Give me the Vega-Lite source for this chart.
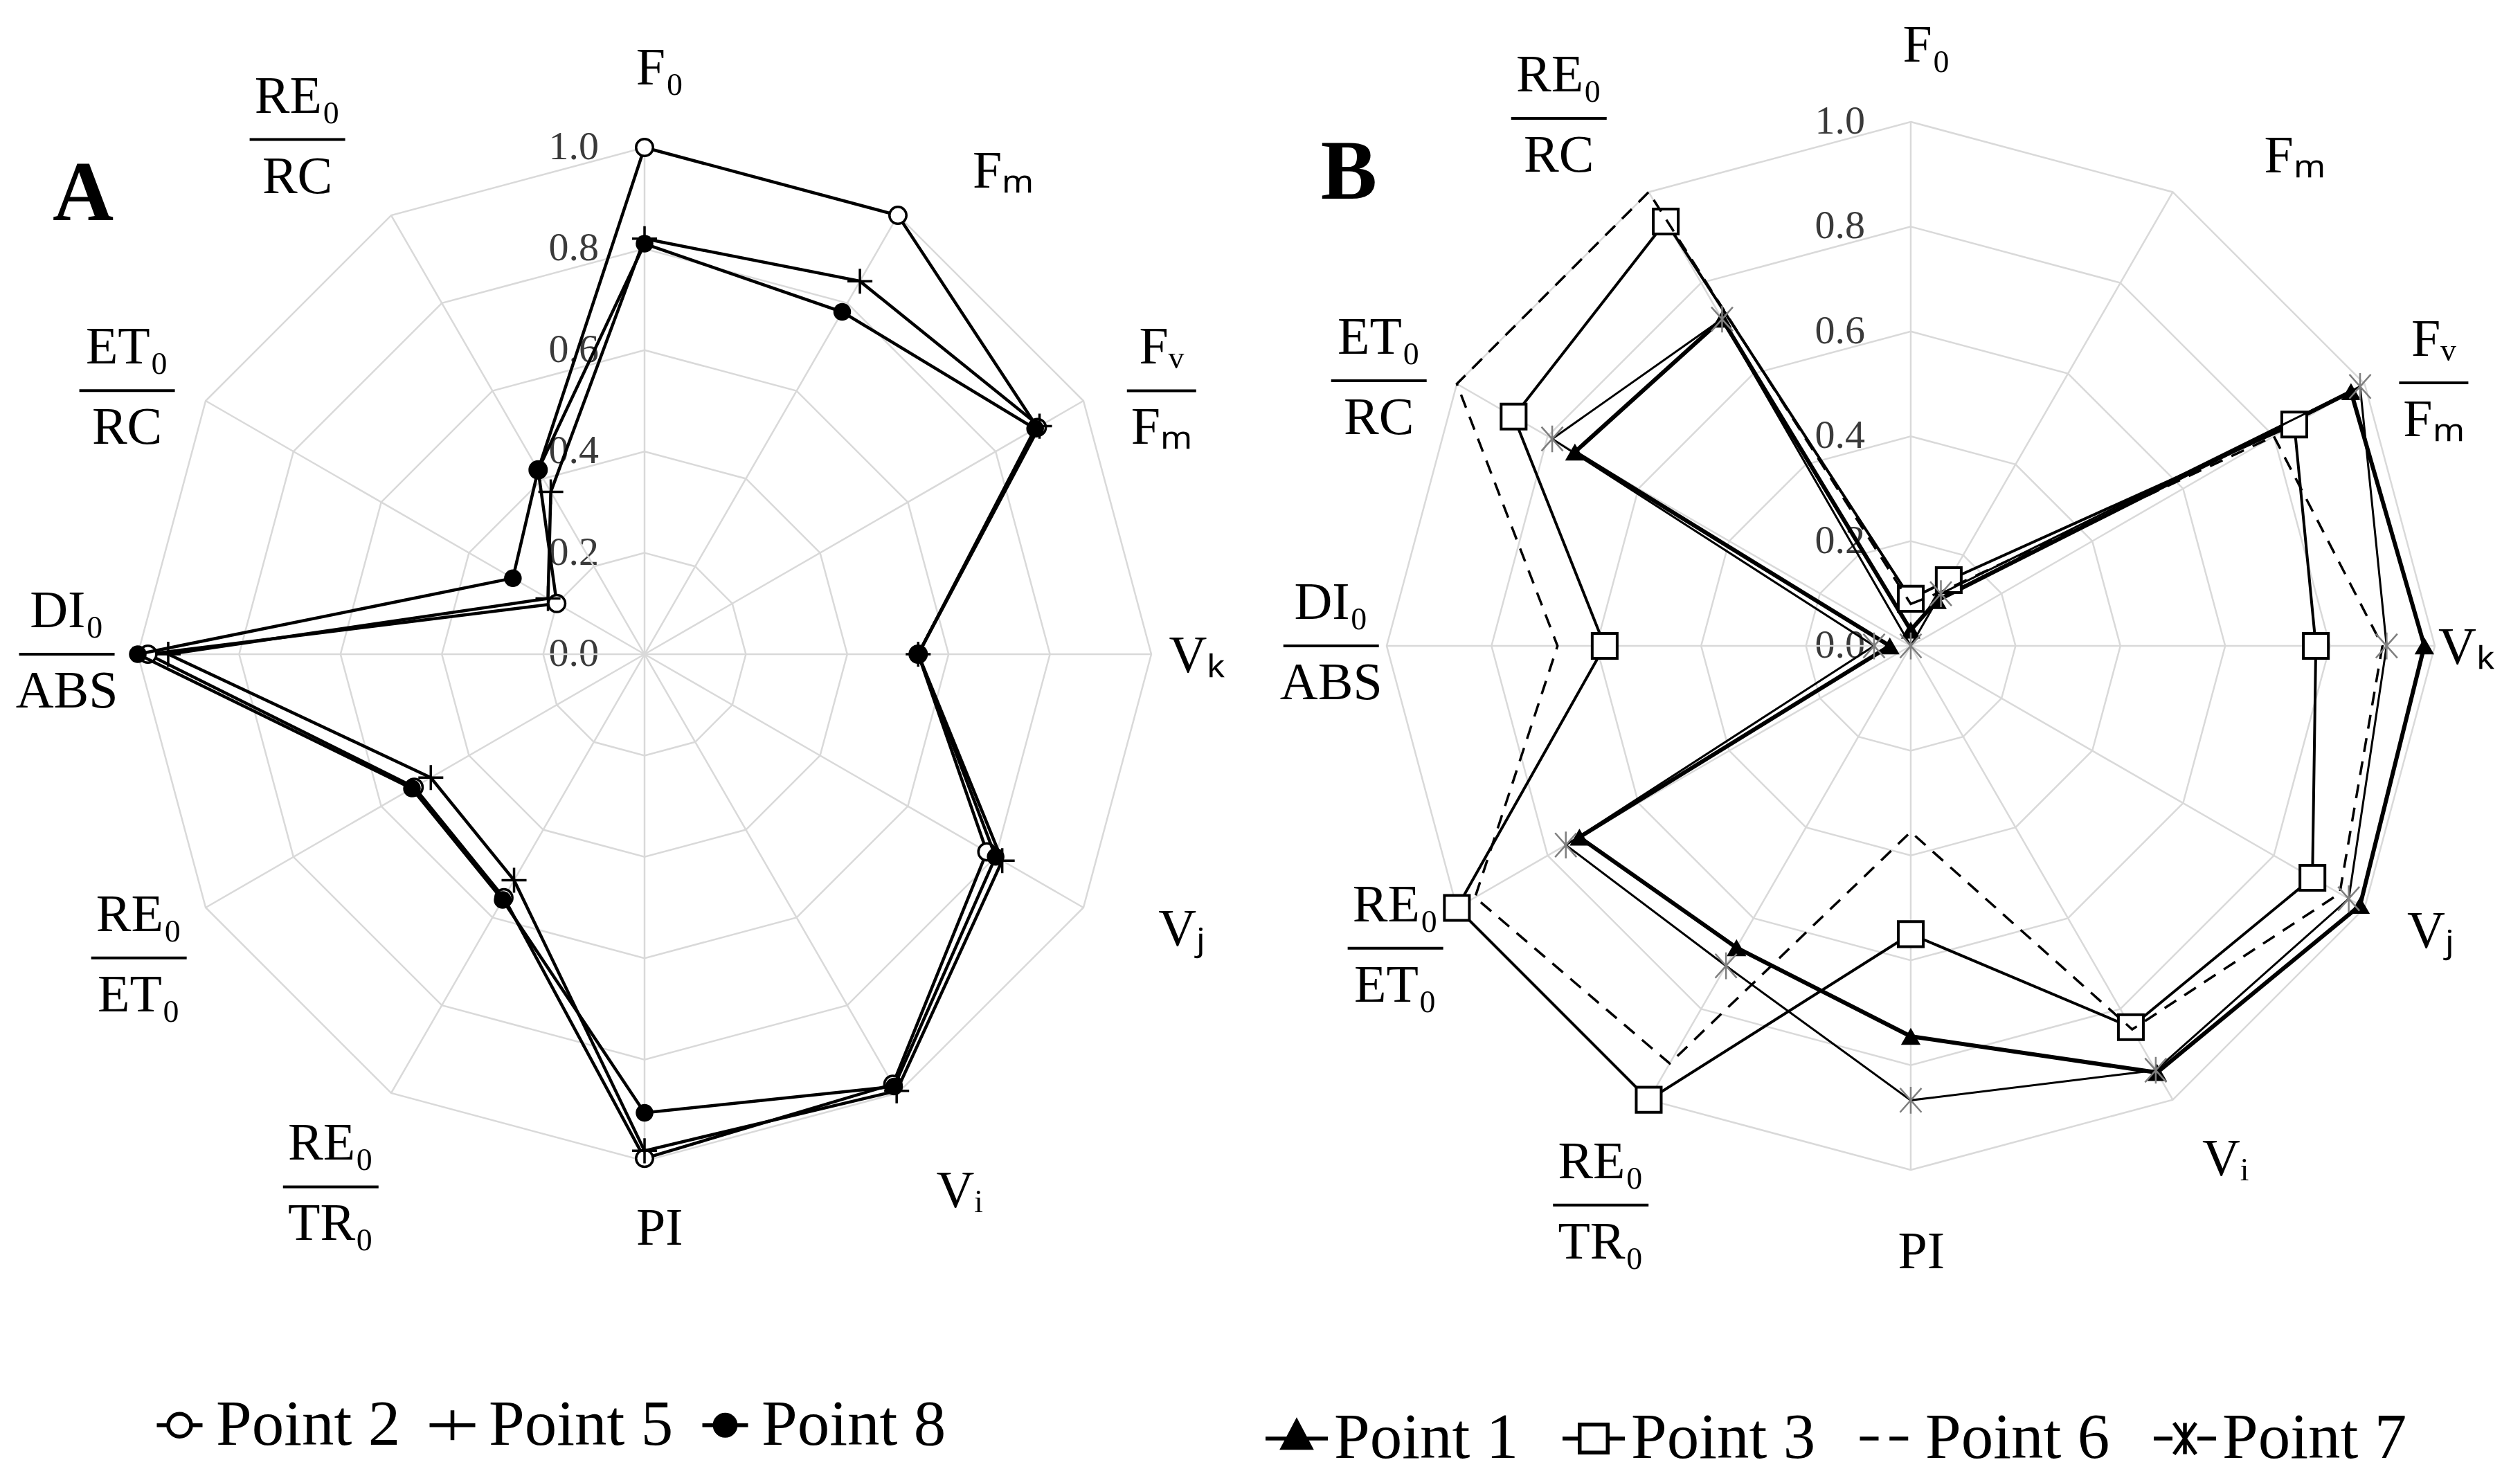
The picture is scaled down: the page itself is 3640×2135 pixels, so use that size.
{
  "$schema": "https://vega.github.io/schema/vega-lite/v6.json",
  "padding": 0,
  "spacing": 0,
  "bounds": "flush",
  "background": "white",
  "config": {"view": {"stroke": null}},
  "resolve": {"scale": {"shape": "independent"}, "legend": {"shape": "independent"}},
  "datasets": {
    "axes": [
      {"axis": "F0", "idx": 0, "num": "F₀", "den": "", "levels": [0, 0.2, 0.4, 0.6, 0.8, 1]},
      {"axis": "Fm", "idx": 1, "num": "Fₘ", "den": "", "levels": [0, 0.2, 0.4, 0.6, 0.8, 1]},
      {"axis": "FvFm", "idx": 2, "num": "Fᵥ", "den": "Fₘ", "levels": [0, 0.2, 0.4, 0.6, 0.8, 1]},
      {"axis": "Vk", "idx": 3, "num": "Vₖ", "den": "", "levels": [0, 0.2, 0.4, 0.6, 0.8, 1]},
      {"axis": "Vj", "idx": 4, "num": "Vⱼ", "den": "", "levels": [0, 0.2, 0.4, 0.6, 0.8, 1]},
      {"axis": "Vi", "idx": 5, "num": "Vᵢ", "den": "", "levels": [0, 0.2, 0.4, 0.6, 0.8, 1]},
      {"axis": "PI", "idx": 6, "num": "PI", "den": "", "levels": [0, 0.2, 0.4, 0.6, 0.8, 1]},
      {"axis": "RETR", "idx": 7, "num": "RE₀", "den": "TR₀", "levels": [0, 0.2, 0.4, 0.6, 0.8, 1]},
      {"axis": "REET", "idx": 8, "num": "RE₀", "den": "ET₀", "levels": [0, 0.2, 0.4, 0.6, 0.8, 1]},
      {"axis": "DIABS", "idx": 9, "num": "DI₀", "den": "ABS", "levels": [0, 0.2, 0.4, 0.6, 0.8, 1]},
      {"axis": "ETRC", "idx": 10, "num": "ET₀", "den": "RC", "levels": [0, 0.2, 0.4, 0.6, 0.8, 1]},
      {"axis": "RERC", "idx": 11, "num": "RE₀", "den": "RC", "levels": [0, 0.2, 0.4, 0.6, 0.8, 1]}
    ],
    "seriesA": [
      {"series": "Point 2", "axis": "F0", "value": 1.0},
      {"series": "Point 2", "axis": "Fm", "value": 1.0},
      {"series": "Point 2", "axis": "FvFm", "value": 0.895},
      {"series": "Point 2", "axis": "Vk", "value": 0.54},
      {"series": "Point 2", "axis": "Vj", "value": 0.78},
      {"series": "Point 2", "axis": "Vi", "value": 0.98},
      {"series": "Point 2", "axis": "PI", "value": 0.995},
      {"series": "Point 2", "axis": "RETR", "value": 0.555},
      {"series": "Point 2", "axis": "REET", "value": 0.525},
      {"series": "Point 2", "axis": "DIABS", "value": 0.98},
      {"series": "Point 2", "axis": "ETRC", "value": 0.2},
      {"series": "Point 2", "axis": "RERC", "value": 0.42},
      {"series": "Point 5", "axis": "F0", "value": 0.82},
      {"series": "Point 5", "axis": "Fm", "value": 0.85},
      {"series": "Point 5", "axis": "FvFm", "value": 0.9},
      {"series": "Point 5", "axis": "Vk", "value": 0.54},
      {"series": "Point 5", "axis": "Vj", "value": 0.815},
      {"series": "Point 5", "axis": "Vi", "value": 0.995},
      {"series": "Point 5", "axis": "PI", "value": 0.98},
      {"series": "Point 5", "axis": "RETR", "value": 0.515},
      {"series": "Point 5", "axis": "REET", "value": 0.487},
      {"series": "Point 5", "axis": "DIABS", "value": 0.94},
      {"series": "Point 5", "axis": "ETRC", "value": 0.22},
      {"series": "Point 5", "axis": "RERC", "value": 0.37},
      {"series": "Point 8", "axis": "F0", "value": 0.81},
      {"series": "Point 8", "axis": "Fm", "value": 0.78},
      {"series": "Point 8", "axis": "FvFm", "value": 0.89},
      {"series": "Point 8", "axis": "Vk", "value": 0.54},
      {"series": "Point 8", "axis": "Vj", "value": 0.8},
      {"series": "Point 8", "axis": "Vi", "value": 0.985},
      {"series": "Point 8", "axis": "PI", "value": 0.905},
      {"series": "Point 8", "axis": "RETR", "value": 0.56},
      {"series": "Point 8", "axis": "REET", "value": 0.53},
      {"series": "Point 8", "axis": "DIABS", "value": 1.0},
      {"series": "Point 8", "axis": "ETRC", "value": 0.3},
      {"series": "Point 8", "axis": "RERC", "value": 0.42}
    ],
    "seriesB": [
      {"series": "Point 1", "axis": "F0", "value": 0.03},
      {"series": "Point 1", "axis": "Fm", "value": 0.1},
      {"series": "Point 1", "axis": "FvFm", "value": 0.97},
      {"series": "Point 1", "axis": "Vk", "value": 0.98},
      {"series": "Point 1", "axis": "Vj", "value": 0.99},
      {"series": "Point 1", "axis": "Vi", "value": 0.94},
      {"series": "Point 1", "axis": "PI", "value": 0.745},
      {"series": "Point 1", "axis": "RETR", "value": 0.665},
      {"series": "Point 1", "axis": "REET", "value": 0.73},
      {"series": "Point 1", "axis": "DIABS", "value": 0.04},
      {"series": "Point 1", "axis": "ETRC", "value": 0.74},
      {"series": "Point 1", "axis": "RERC", "value": 0.72},
      {"series": "Point 3", "axis": "F0", "value": 0.09},
      {"series": "Point 3", "axis": "Fm", "value": 0.145},
      {"series": "Point 3", "axis": "FvFm", "value": 0.845},
      {"series": "Point 3", "axis": "Vk", "value": 0.773},
      {"series": "Point 3", "axis": "Vj", "value": 0.885},
      {"series": "Point 3", "axis": "Vi", "value": 0.84},
      {"series": "Point 3", "axis": "PI", "value": 0.55},
      {"series": "Point 3", "axis": "RETR", "value": 1.0},
      {"series": "Point 3", "axis": "REET", "value": 1.0},
      {"series": "Point 3", "axis": "DIABS", "value": 0.584},
      {"series": "Point 3", "axis": "ETRC", "value": 0.875},
      {"series": "Point 3", "axis": "RERC", "value": 0.935},
      {"series": "Point 6", "axis": "F0", "value": 0.08},
      {"series": "Point 6", "axis": "Fm", "value": 0.12},
      {"series": "Point 6", "axis": "FvFm", "value": 0.8},
      {"series": "Point 6", "axis": "Vk", "value": 0.9},
      {"series": "Point 6", "axis": "Vj", "value": 0.945},
      {"series": "Point 6", "axis": "Vi", "value": 0.845},
      {"series": "Point 6", "axis": "PI", "value": 0.355},
      {"series": "Point 6", "axis": "RETR", "value": 0.92},
      {"series": "Point 6", "axis": "REET", "value": 0.96},
      {"series": "Point 6", "axis": "DIABS", "value": 0.674},
      {"series": "Point 6", "axis": "ETRC", "value": 1.0},
      {"series": "Point 6", "axis": "RERC", "value": 1.0},
      {"series": "Point 7", "axis": "F0", "value": 0.0},
      {"series": "Point 7", "axis": "Fm", "value": 0.115},
      {"series": "Point 7", "axis": "FvFm", "value": 0.99},
      {"series": "Point 7", "axis": "Vk", "value": 0.908},
      {"series": "Point 7", "axis": "Vj", "value": 0.965},
      {"series": "Point 7", "axis": "Vi", "value": 0.935},
      {"series": "Point 7", "axis": "PI", "value": 0.867},
      {"series": "Point 7", "axis": "RETR", "value": 0.705},
      {"series": "Point 7", "axis": "REET", "value": 0.76},
      {"series": "Point 7", "axis": "DIABS", "value": 0.07},
      {"series": "Point 7", "axis": "ETRC", "value": 0.79},
      {"series": "Point 7", "axis": "RERC", "value": 0.72}
    ]
  },
  "hconcat": [
    {
      "width": 1820,
      "height": 2135,
      "encoding": {
        "x": {"field": "x", "type": "quantitative", "scale": {"domain": [-1.2719, 1.2145], "nice": false, "zero": false}, "axis": null},
        "y": {"field": "y", "type": "quantitative", "scale": {"domain": [-1.6257, 1.291], "nice": false, "zero": false}, "axis": null}
      },
      "layer": [
        {
          "data": {"name": "axes"},
          "transform": [
            {"flatten": ["levels"], "as": ["level"]},
            {"calculate": "datum.level*sin(datum.idx*PI/6)", "as": "x"},
            {"calculate": "datum.level*cos(datum.idx*PI/6)", "as": "y"}
          ],
          "layer": [
            {
              "transform": [{"filter": "datum.level > 0"}],
              "mark": {"type": "line", "interpolate": "linear-closed", "color": "#d9d9d9", "strokeWidth": 2.5},
              "encoding": {"detail": {"field": "level", "type": "nominal"}, "order": {"field": "idx", "type": "quantitative"}}
            },
            {
              "transform": [{"filter": "datum.idx == 0"}],
              "mark": {"type": "text", "align": "right", "baseline": "middle", "dx": -66, "font": "Liberation Serif", "fontSize": 58, "color": "#3a3a3a"},
              "encoding": {"text": {"field": "level", "type": "quantitative", "format": ".1f"}}
            }
          ]
        },
        {
          "data": {"name": "axes"},
          "transform": [
            {"calculate": "sin(datum.idx*PI/6)", "as": "x"},
            {"calculate": "cos(datum.idx*PI/6)", "as": "y"}
          ],
          "mark": {"type": "rule", "color": "#d9d9d9", "strokeWidth": 2.5},
          "encoding": {"x": {"datum": 0}, "y": {"datum": 0}, "x2": {"field": "x"}, "y2": {"field": "y"}}
        },
        {
          "data": {"name": "seriesA"},
          "transform": [
            {"lookup": "axis", "from": {"data": {"name": "axes"}, "key": "axis", "fields": ["idx"]}},
            {"calculate": "datum.value*sin(datum.idx*PI/6)", "as": "x"},
            {"calculate": "datum.value*cos(datum.idx*PI/6)", "as": "y"}
          ],
          "layer": [
            {"transform": [{"filter": "datum.series == 'Point 2'"}], "mark": {"type": "line", "interpolate": "linear-closed", "color": "black", "strokeWidth": 4.5}, "encoding": {"order": {"field": "idx", "type": "quantitative"}}},
            {"transform": [{"filter": "datum.series == 'Point 2'"}], "mark": {"type": "point", "shape": "circle", "filled": true, "fill": "white", "stroke": "black", "strokeWidth": 3.5, "size": 600, "opacity": 1}},
            {"transform": [{"filter": "datum.series == 'Point 5'"}], "mark": {"type": "line", "interpolate": "linear-closed", "color": "black", "strokeWidth": 4.5}, "encoding": {"order": {"field": "idx", "type": "quantitative"}}},
            {"transform": [{"filter": "datum.series == 'Point 5'"}], "mark": {"type": "point", "shape": "M-1,0H1M0,-1V1", "filled": false, "color": "black", "strokeWidth": 3.5, "size": 1300, "opacity": 1}},
            {"transform": [{"filter": "datum.series == 'Point 8'"}], "mark": {"type": "line", "interpolate": "linear-closed", "color": "black", "strokeWidth": 4.5}, "encoding": {"order": {"field": "idx", "type": "quantitative"}}},
            {"transform": [{"filter": "datum.series == 'Point 8'"}], "mark": {"type": "point", "shape": "circle", "filled": true, "color": "black", "size": 650, "opacity": 1}}
          ]
        },
        {
          "data": {"name": "axes"},
          "transform": [
            {"calculate": "[1.16,1.19,1.145,1.09,1.19,1.225,1.13,1.22,1.164,1.14,1.146,1.225][datum.idx]", "as": "rl"},
            {"calculate": "[1.5,36.5,63,90,117,149.5,178.5,210.5,239,270,297,326][datum.idx]*PI/180", "as": "ang"},
            {"calculate": "datum.rl*sin(datum.ang)", "as": "x"},
            {"calculate": "datum.rl*cos(datum.ang)", "as": "y"}
          ],
          "layer": [
            {"transform": [{"filter": "datum.den == ''"}], "mark": {"type": "text", "align": "center", "baseline": "alphabetic", "dy": 26, "font": "Liberation Serif", "fontSize": 76, "color": "black"}, "encoding": {"text": {"field": "num"}}},
            {"transform": [{"filter": "datum.den != ''"}], "mark": {"type": "text", "align": "center", "baseline": "alphabetic", "dy": -39, "font": "Liberation Serif", "fontSize": 76, "color": "black"}, "encoding": {"text": {"field": "num"}}},
            {"transform": [{"filter": "datum.den != ''"}], "mark": {"type": "text", "align": "center", "baseline": "alphabetic", "dy": 77, "font": "Liberation Serif", "fontSize": 76, "color": "black"}, "encoding": {"text": {"field": "den"}}},
            {"transform": [{"filter": "datum.den != ''"}], "mark": {"type": "tick", "orient": "horizontal", "thickness": 4, "color": "black", "opacity": 1}, "encoding": {"size": {"condition": {"test": "datum.idx == 2", "value": 100}, "value": 138}}}
          ]
        },
        {
          "data": {"values": [{"t": "A"}]},
          "transform": [
            {"calculate": "-1.108", "as": "x"},
            {"calculate": "0.857", "as": "y"}
          ],
          "mark": {"type": "text", "align": "center", "baseline": "alphabetic", "font": "Liberation Serif", "fontWeight": "bold", "fontSize": 122, "color": "black"},
          "encoding": {"text": {"field": "t", "type": "nominal"}}
        },
        {
          "data": {"name": "seriesA"},
          "mark": {"type": "point", "clip": true, "filled": false, "color": "black", "strokeWidth": 5.5},
          "encoding": {
            "x": {"datum": 10},
            "y": {"datum": 10},
            "shape": {
              "field": "series",
              "type": "nominal",
              "scale": {
                "domain": ["Point 2", "Point 5", "Point 8"],
                "range": [
                  "M-1,0H-0.5M0.5,0H1M-0.5,0A0.5,0.5,0,1,1,0.5,0A0.5,0.5,0,1,1,-0.5,0Z",
                  "M-1,0H1M0,-0.65V0.65",
                  "M-1,0H1M-0.46,0A0.46,0.46,0,1,1,0.46,0A0.46,0.46,0,1,1,-0.46,0ZM-0.34,0A0.34,0.34,0,1,1,0.34,0A0.34,0.34,0,1,1,-0.34,0ZM-0.22,0A0.22,0.22,0,1,1,0.22,0A0.22,0.22,0,1,1,-0.22,0ZM-0.1,0A0.1,0.1,0,1,1,0.1,0A0.1,0.1,0,1,1,-0.1,0Z"
                ]
              },
              "legend": {
                "orient": "none", "legendX": 213, "legendY": 2012, "direction": "horizontal", "title": null,
                "symbolSize": 4356, "symbolStrokeWidth": 5.5, "symbolStrokeColor": "black", "symbolFillColor": "transparent", "symbolOpacity": 1,
                "labelFont": "Liberation Serif", "labelFontSize": 93, "labelColor": "black", "labelOffset": 6, "labelLimit": 0,
                "columnPadding": 28, "padding": 0
              }
            }
          }
        }
      ]
    },
    {
      "width": 1820,
      "height": 2135,
      "encoding": {
        "x": {"field": "x", "type": "quantitative", "scale": {"domain": [-1.2417, 1.1625], "nice": false, "zero": false}, "axis": null},
        "y": {"field": "y", "type": "quantitative", "scale": {"domain": [-1.5878, 1.2325], "nice": false, "zero": false}, "axis": null}
      },
      "layer": [
        {
          "data": {"name": "axes"},
          "transform": [
            {"flatten": ["levels"], "as": ["level"]},
            {"calculate": "datum.level*sin(datum.idx*PI/6)", "as": "x"},
            {"calculate": "datum.level*cos(datum.idx*PI/6)", "as": "y"}
          ],
          "layer": [
            {
              "transform": [{"filter": "datum.level > 0"}],
              "mark": {"type": "line", "interpolate": "linear-closed", "color": "#d9d9d9", "strokeWidth": 2.5},
              "encoding": {"detail": {"field": "level", "type": "nominal"}, "order": {"field": "idx", "type": "quantitative"}}
            },
            {
              "transform": [{"filter": "datum.idx == 0"}],
              "mark": {"type": "text", "align": "right", "baseline": "middle", "dx": -66, "font": "Liberation Serif", "fontSize": 58, "color": "#3a3a3a"},
              "encoding": {"text": {"field": "level", "type": "quantitative", "format": ".1f"}}
            }
          ]
        },
        {
          "data": {"name": "axes"},
          "transform": [
            {"calculate": "sin(datum.idx*PI/6)", "as": "x"},
            {"calculate": "cos(datum.idx*PI/6)", "as": "y"}
          ],
          "mark": {"type": "rule", "color": "#d9d9d9", "strokeWidth": 2.5},
          "encoding": {"x": {"datum": 0}, "y": {"datum": 0}, "x2": {"field": "x"}, "y2": {"field": "y"}}
        },
        {
          "data": {"name": "seriesB"},
          "transform": [
            {"lookup": "axis", "from": {"data": {"name": "axes"}, "key": "axis", "fields": ["idx"]}},
            {"calculate": "datum.value*sin(datum.idx*PI/6)", "as": "x"},
            {"calculate": "datum.value*cos(datum.idx*PI/6)", "as": "y"}
          ],
          "layer": [
            {"transform": [{"filter": "datum.series == 'Point 1'"}], "mark": {"type": "line", "interpolate": "linear-closed", "color": "black", "strokeWidth": 6}, "encoding": {"order": {"field": "idx", "type": "quantitative"}}},
            {"transform": [{"filter": "datum.series == 'Point 1'"}], "mark": {"type": "point", "shape": "triangle-up", "filled": true, "color": "black", "size": 800, "opacity": 1}},
            {"transform": [{"filter": "datum.series == 'Point 3'"}], "mark": {"type": "line", "interpolate": "linear-closed", "color": "black", "strokeWidth": 4}, "encoding": {"order": {"field": "idx", "type": "quantitative"}}},
            {"transform": [{"filter": "datum.series == 'Point 3'"}], "mark": {"type": "point", "shape": "square", "filled": true, "fill": "white", "stroke": "black", "strokeWidth": 4, "size": 1300, "opacity": 1}},
            {"transform": [{"filter": "datum.series == 'Point 6'"}], "mark": {"type": "line", "interpolate": "linear-closed", "color": "black", "strokeWidth": 3.5, "strokeDash": [20, 14]}, "encoding": {"order": {"field": "idx", "type": "quantitative"}}},
            {"transform": [{"filter": "datum.series == 'Point 7'"}], "mark": {"type": "line", "interpolate": "linear-closed", "color": "black", "strokeWidth": 3}, "encoding": {"order": {"field": "idx", "type": "quantitative"}}},
            {"transform": [{"filter": "datum.series == 'Point 7'"}], "mark": {"type": "point", "shape": "M0,-1V1M-0.8,-0.9L0.8,0.9M-0.8,0.9L0.8,-0.9", "filled": false, "color": "#7f7f7f", "strokeWidth": 2.5, "size": 1500, "opacity": 1}}
          ]
        },
        {
          "data": {"name": "axes"},
          "transform": [
            {"calculate": "[1.15,1.19,1.117,1.06,1.13,1.146,1.153,1.22,1.14,1.106,1.134,1.21][datum.idx]", "as": "rl"},
            {"calculate": "[1.5,38,63.3,90,118.6,148.4,179,209,239.6,270,296.5,326.3][datum.idx]*PI/180", "as": "ang"},
            {"calculate": "datum.rl*sin(datum.ang)", "as": "x"},
            {"calculate": "datum.rl*cos(datum.ang)", "as": "y"}
          ],
          "layer": [
            {"transform": [{"filter": "datum.den == ''"}], "mark": {"type": "text", "align": "center", "baseline": "alphabetic", "dy": 26, "font": "Liberation Serif", "fontSize": 76, "color": "black"}, "encoding": {"text": {"field": "num"}}},
            {"transform": [{"filter": "datum.den != ''"}], "mark": {"type": "text", "align": "center", "baseline": "alphabetic", "dy": -39, "font": "Liberation Serif", "fontSize": 76, "color": "black"}, "encoding": {"text": {"field": "num"}}},
            {"transform": [{"filter": "datum.den != ''"}], "mark": {"type": "text", "align": "center", "baseline": "alphabetic", "dy": 77, "font": "Liberation Serif", "fontSize": 76, "color": "black"}, "encoding": {"text": {"field": "den"}}},
            {"transform": [{"filter": "datum.den != ''"}], "mark": {"type": "tick", "orient": "horizontal", "thickness": 4, "color": "black", "opacity": 1}, "encoding": {"size": {"condition": {"test": "datum.idx == 2", "value": 100}, "value": 138}}}
          ]
        },
        {
          "data": {"values": [{"t": "B"}]},
          "transform": [
            {"calculate": "-1.072", "as": "x"},
            {"calculate": "0.854", "as": "y"}
          ],
          "mark": {"type": "text", "align": "center", "baseline": "alphabetic", "font": "Liberation Serif", "fontWeight": "bold", "fontSize": 122, "color": "black"},
          "encoding": {"text": {"field": "t", "type": "nominal"}}
        },
        {
          "data": {"name": "seriesB"},
          "mark": {"type": "point", "clip": true, "filled": false, "color": "black", "strokeWidth": 5.5},
          "encoding": {
            "x": {"datum": 10},
            "y": {"datum": 10},
            "shape": {
              "field": "series",
              "type": "nominal",
              "scale": {
                "domain": ["Point 1", "Point 3", "Point 6", "Point 7"],
                "range": [
                  "M-1,0H1M0,-0.55L0.45,0.3L-0.45,0.3ZM0,-0.408L0.3375,0.229L-0.3375,0.229ZM0,-0.267L0.225,0.158L-0.225,0.158ZM0,-0.125L0.1125,0.0875L-0.1125,0.0875Z",
                  "M-1,0H-0.45M0.45,0H1M-0.45,-0.45H0.45V0.45H-0.45Z",
                  "M-0.9,0H-0.3M0.05,0H0.65",
                  "M-1,0H-0.4M0.4,0H1M0,-0.5V0.5M-0.35,-0.5L0.35,0.5M-0.35,0.5L0.35,-0.5"
                ]
              },
              "legend": {
                "orient": "none", "legendX": 5, "legendY": 2030, "direction": "horizontal", "title": null,
                "symbolSize": 8100, "symbolStrokeWidth": 5.5, "symbolStrokeColor": "black", "symbolFillColor": "transparent", "symbolOpacity": 1,
                "labelFont": "Liberation Serif", "labelFontSize": 93, "labelColor": "black", "labelOffset": 6, "labelLimit": 0,
                "columnPadding": 52, "padding": 0
              }
            }
          }
        }
      ]
    }
  ]
}
